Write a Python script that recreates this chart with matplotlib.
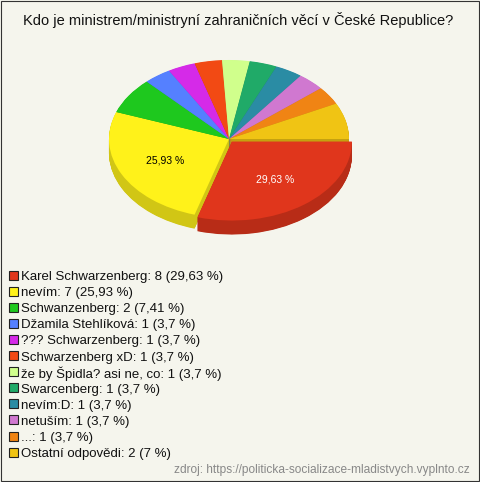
import matplotlib
matplotlib.use('Agg')
import matplotlib.pyplot as plt
from matplotlib.patches import Rectangle
import matplotlib.colors as mcolors
import numpy as np

plt.rcParams['font.family'] = ['Liberation Sans', 'DejaVu Sans']

title = 'Kdo je ministrem/ministryní zahraničních věcí v České Republice?'
source = 'zdroj: https://politicka-socializace-mladistvych.vyplnto.cz'

names = ['Karel Schwarzenberg', 'nevím', 'Schwanzenberg', 'Džamila Stehlíková',
         '??? Schwarzenberg', 'Schwarzenberg xD', 'že by Špidla? asi ne, co',
         'Swarcenberg', 'nevím:D', 'netuším', '...', 'Ostatní odpovědi']
counts = [8, 7, 2, 1, 1, 1, 1, 1, 1, 1, 1, 2]
pct_text = ['29,63', '25,93', '7,41', '3,7', '3,7', '3,7', '3,7', '3,7', '3,7',
            '3,7', '3,7', '7']
colors = ['#e0361c', '#fff21a', '#1ec81e', '#5580ff', '#d52ae8', '#f24a14',
          '#d0ff8c', '#20aa68', '#2a8ca4', '#d078d0', '#f08414', '#f0c414']
explode = [0.04] + [0] * 11

W, H = 480, 482
fig = plt.figure(figsize=(W / 100, H / 100), dpi=100)
fig.patch.set_facecolor('#f5f5ed')

# background axes in pixel coords
bg = fig.add_axes([0, 0, 1, 1])
bg.set_xlim(0, W)
bg.set_ylim(H, 0)
bg.axis('off')
bg.add_patch(Rectangle((0.5, 0.5), W - 1.2, H - 1.2, fill=False, ec='#333333',
                       lw=0.8, clip_on=False))

bg.text(238, 20, title, ha='center', va='center', fontsize=10.5, color='#111111')

# pie axes: 1 unit = 120 px horizontally, 79 px vertically
cx, cy = 229, 139
rx, ry = 120, 79
xl, yt, yb = 1.5, 1.5, 2.0
ax = fig.add_axes([(cx - xl * rx) / W, (H - cy - yb * ry) / H,
                   2 * xl * rx / W, (yt + yb) * ry / H])

side_cols = [mcolors.to_hex(np.array(mcolors.to_rgb(c)) * 0.82) for c in colors]
depth = 14 / ry
nl = 28
for k in range(nl, 0, -1):
    ax.pie(counts, colors=side_cols, explode=explode, startangle=0,
           counterclock=False, center=(0, -depth * k / nl),
           wedgeprops=dict(linewidth=0))

def fmt(p):
    return (f'{p:.2f}'.replace('.', ',') + ' %') if p > 20 else ''

wedges, texts, autotexts = ax.pie(counts, colors=colors, explode=explode,
                                  startangle=0, counterclock=False,
                                  autopct=fmt, pctdistance=0.6,
                                  wedgeprops=dict(linewidth=0),
                                  textprops=dict(fontsize=7.5))
autotexts[0].set_color('white')
autotexts[1].set_color('black')

ax.set_aspect('auto')
ax.set_xlim(-xl, xl)
ax.set_ylim(-yb, yt)
ax.axis('off')

# legend
y0, dy = 275, 16.1
for i, (n, c, p) in enumerate(zip(names, counts, pct_text)):
    y = y0 + i * dy
    bg.add_patch(Rectangle((9, y - 4.5), 9, 9, fc=colors[i], ec='#222222', lw=0.8))
    bg.text(21, y + 0.5, f'{n}: {c} ({p} %)', ha='left', va='center_baseline',
            fontsize=9.5, color='#111111')

bg.text(470, 470, source, ha='right', va='center', fontsize=8.6, color='#888888')

fig.savefig('out.png', dpi=100, facecolor=fig.get_facecolor())
